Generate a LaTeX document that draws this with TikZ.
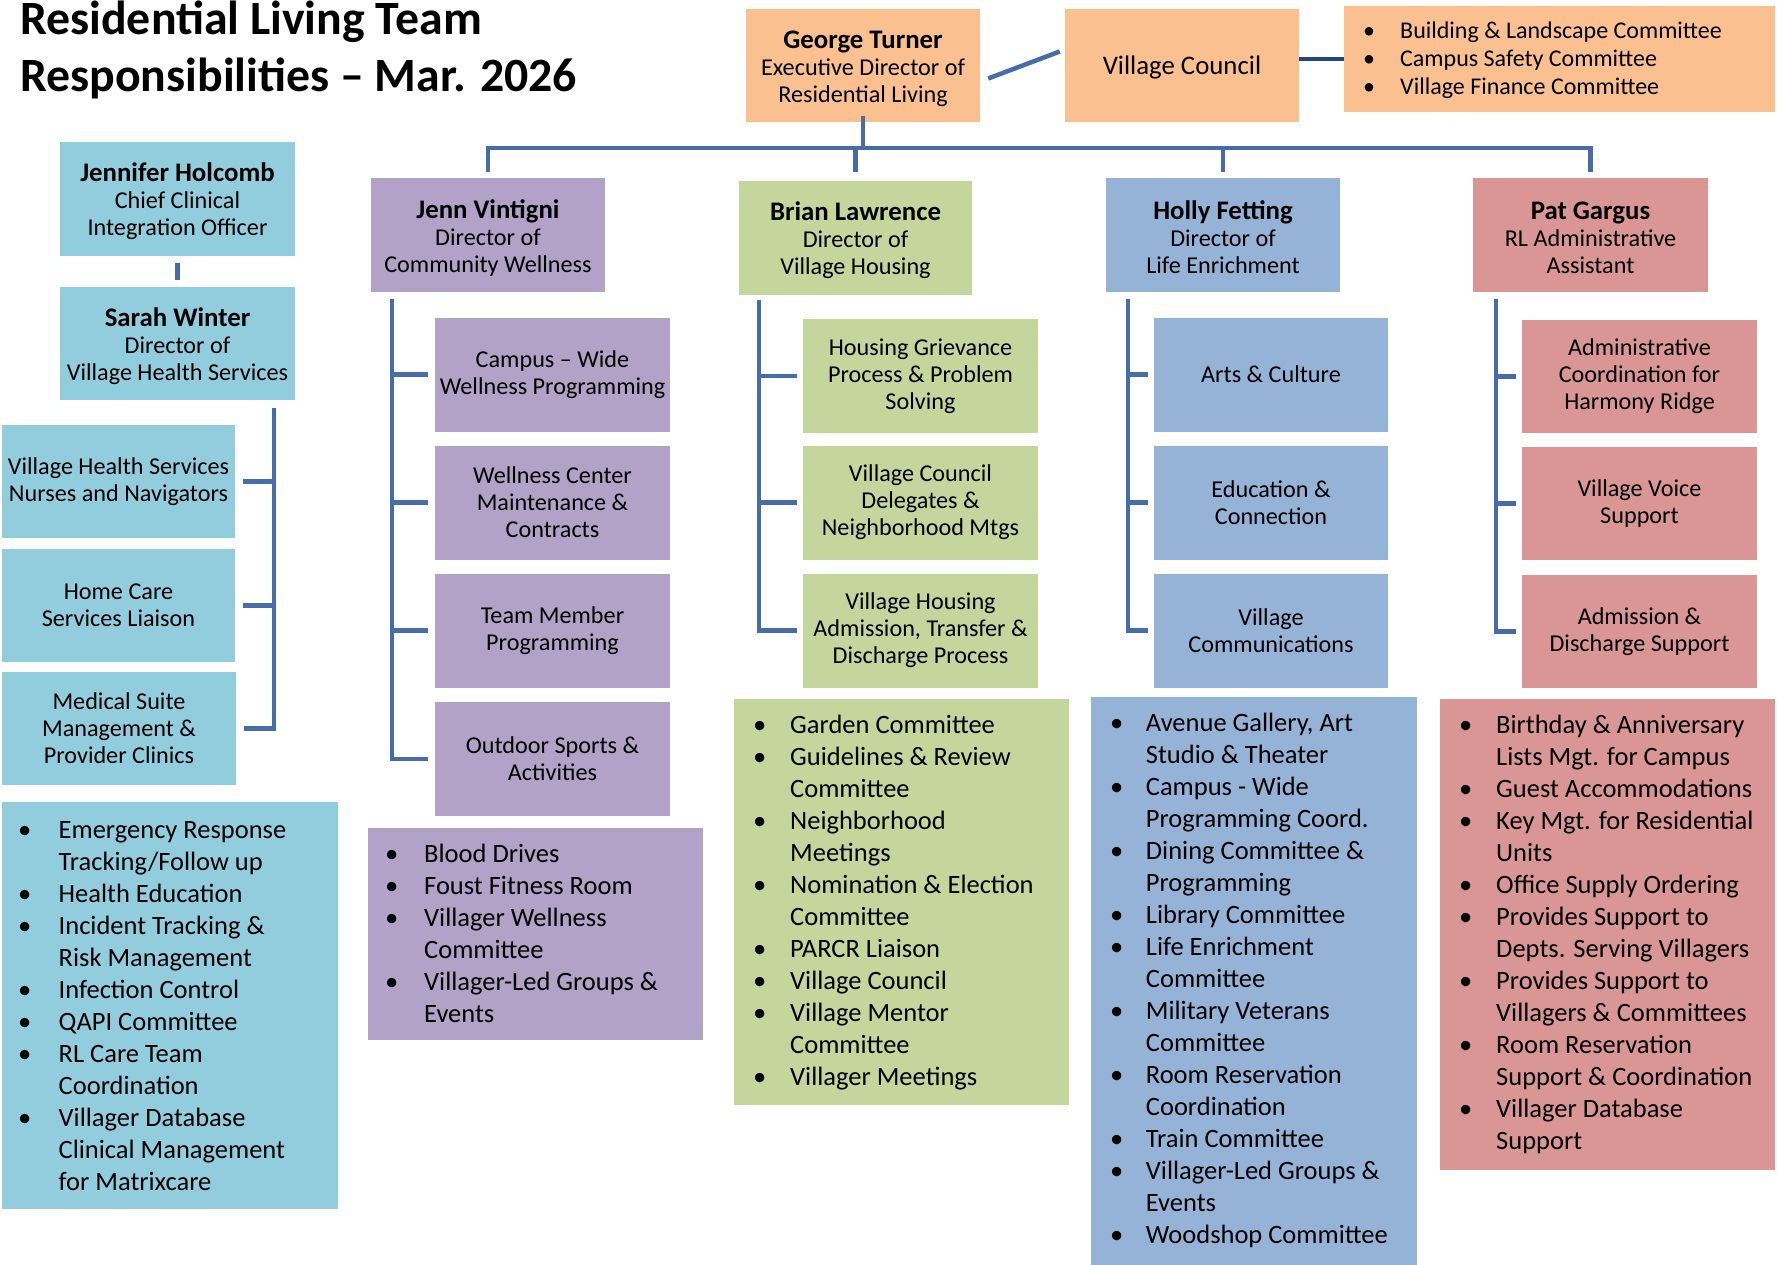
\documentclass[tikz,border=0pt]{standalone}
\usepackage{fontspec}
\setmainfont{Carlito}
\usetikzlibrary{calc}
\definecolor{corng}{RGB}{250,192,144}
\definecolor{cteal}{RGB}{146,205,221}
\definecolor{cpurp}{RGB}{179,162,199}
\definecolor{cgreen}{RGB}{196,214,155}
\definecolor{cblue}{RGB}{149,179,215}
\definecolor{cred}{RGB}{217,150,148}
\definecolor{cline}{RGB}{70,108,170}
\definecolor{cdark}{RGB}{31,73,125}
\newlength\bw
\setlength\bw{38pt}
\newcommand\bul{\makebox[\bw][l]{•}}
\newcommand\ind{\hspace*{\bw}}
\newcommand\nm[1]{{\rule{0pt}{24pt}\fontsize{26.8}{27}\selectfont\bfseries #1}}
\begin{document}
\begin{tikzpicture}[x=1pt,y=-1pt,
  box/.style={inner sep=0pt, align=center, font=\fontsize{24.2}{27}\selectfont, text=black, minimum width=235pt, minimum height=114pt},
  lst/.style={inner sep=0pt, anchor=base west, font=\fontsize{26.5}{32}\selectfont, text=black},
  bg/.style={inner sep=0pt},
  conn/.style={draw=cline, line width=4.5pt}]
\useasboundingbox (0,0) rectangle (1777,1265);

% title
\node[inner sep=0pt, anchor=base west, font=\bfseries\fontsize{47.8}{57}\selectfont] (title) at (20,35)
  {\parbox[t]{700pt}{\raggedright Residential Living Team\\Responsibilities – Mar. 2026}};

% top row
\node[box, fill=corng, minimum width=234pt, minimum height=113pt] (george) at (863,65.5)
  {\nm{George Turner}\\Executive Director of\\Residential Living};
\node[box, fill=corng, minimum width=234pt, minimum height=113pt, font=\fontsize{26.8}{30}\selectfont] (council) at (1182,65.5) {\raisebox{-2.5pt}[19pt][5pt]{Village Council}};
\node[bg, fill=corng, minimum width=431pt, minimum height=106pt] (comm) at (1559.5,59) {};
\node[lst, font=\fontsize{24}{28}\selectfont] (commtxt) at (1363,38.5)
  {\parbox[t]{400pt}{\raggedright\setlength\bw{37pt}\bul Building \& Landscape Committee\\\bul Campus Safety Committee\\\bul Village Finance Committee}};

\draw[conn] ([xshift=8pt,yshift=-13pt]george.east) -- ([xshift=-5pt,yshift=14pt]council.west);
\draw[draw=cdark, line width=4.5pt] (council.east |- comm.west) -- (comm.west);

% left column
\node[box, fill=cteal] (jen) at (177.5,199) {\nm{Jennifer Holcomb}\\Chief Clinical\\Integration Officer};
\node[box, fill=cteal, minimum height=113pt] (sarah) at (177.5,343.5) {\nm{Sarah Winter}\\Director of\\Village Health Services};
\draw[conn] ([yshift=-7pt]jen.south) -- ([yshift=7pt]sarah.north);
\node[box, fill=cteal, minimum width=233pt, minimum height=113pt] (vhs) at (118.5,481.5) {Village Health Services\\Nurses and Navigators};
\node[box, fill=cteal, minimum width=233pt, minimum height=113pt] (home) at (118.5,605.5) {Home Care\\Services Liaison};
\node[box, fill=cteal, minimum width=234pt, minimum height=113pt] (med) at (119,728.5) {Medical Suite\\Management \&\\Provider Clinics};
\coordinate (sw) at ([xshift=-21pt,yshift=-8pt]sarah.south east);
\draw[conn] (sw) |- ([xshift=8pt]med.east);
\draw[conn] ([xshift=8pt]vhs.east) -- (vhs.east -| sw);
\draw[conn] ([xshift=8pt]home.east) -- (home.east -| sw);
\node[bg, fill=cteal, minimum width=336pt, minimum height=407pt] (lbox) at (170,1005.5) {};
\node[lst] (ltxt) at (18,838) {\parbox[t]{310pt}{\raggedright\setlength\bw{40.5pt}%
\bul Emergency Response\\\ind Tracking/Follow up\\\bul Health Education\\\bul Incident Tracking \&\\\ind Risk Management\\\bul Infection Control\\\bul QAPI Committee\\\bul RL Care Team\\\ind Coordination\\\bul Villager Database\\\ind Clinical Management\\\ind for Matrixcare}};

% bus
\coordinate (bus) at (864,148);
\node[box, fill=cpurp, minimum width=234pt] (jenn) at (488,235) {\nm{Jenn Vintigni}\\Director of\\Community Wellness};
\node[box, fill=cgreen, minimum width=233pt] (brian) at (855.5,238) {\nm{Brian Lawrence}\\Director of\\Village Housing};
\node[box, fill=cblue, minimum width=234pt] (holly) at (1223,235) {\nm{Holly Fetting}\\Director of\\Life Enrichment};
\node[box, fill=cred] (pat) at (1590.5,235) {\nm{Pat Gargus}\\RL Administrative\\Assistant};
\draw[conn] ([yshift=6pt]george.south) -- (george.south |- bus);
\draw[conn] ([yshift=6pt]jenn.north) -- (jenn.north |- bus) -- (pat.north |- bus) -- ([yshift=6pt]pat.north);
\draw[conn] ([yshift=9pt]brian.north) -- (brian.north |- bus);
\draw[conn] ([yshift=6pt]holly.north) -- (holly.north |- bus);

% purple column
\node[box, fill=cpurp] (p1) at (552.5,374.5) {Campus – Wide\\Wellness Programming};
\node[box, fill=cpurp] (p2) at (552.5,502.5) {Wellness Center\\Maintenance \&\\Contracts};
\node[box, fill=cpurp] (p3) at (552.5,630.5) {Team Member\\Programming};
\node[box, fill=cpurp] (p4) at (552.5,759) {Outdoor Sports \&\\Activities};
\coordinate (pv) at ([xshift=21pt,yshift=-7pt]jenn.south west);
\draw[conn] (pv) |- ([xshift=-7pt]p4.west);
\foreach \n in {p1,p2,p3} \draw[conn] ([xshift=-7pt]\n.west) -- (\n.west -| pv);
\node[bg, fill=cpurp, minimum width=335pt, minimum height=212pt] (pbox) at (535.5,934) {};
\node[lst] (ptxt) at (385,862.5) {\parbox[t]{310pt}{\raggedright\setlength\bw{39pt}%
\bul Blood Drives\\\bul Foust Fitness Room\\\bul Villager Wellness\\\ind Committee\\\bul Villager-Led Groups \&\\\ind Events}};

% green column
\node[box, fill=cgreen] (g1) at (920.5,376) {Housing Grievance\\Process \& Problem\\Solving};
\node[box, fill=cgreen] (g2) at (920.5,502.5) {Village Council\\Delegates \&\\Neighborhood Mtgs};
\node[box, fill=cgreen] (g3) at (920.5,630.5) {Village Housing\\Admission, Transfer \&\\Discharge Process};
\coordinate (gv) at ([xshift=20pt,yshift=-5pt]brian.south west);
\draw[conn] (gv) |- ([xshift=-6pt]g3.west);
\foreach \n in {g1,g2} \draw[conn] ([xshift=-6pt]\n.west) -- (\n.west -| gv);
\node[bg, fill=cgreen, minimum width=335pt, minimum height=406pt] (gbox) at (901.5,902) {};
\node[lst] (gtxt) at (753,733) {\parbox[t]{320pt}{\raggedright\setlength\bw{37pt}%
\bul Garden Committee\\\bul Guidelines \& Review\\\ind Committee\\\bul Neighborhood\\\ind Meetings\\\bul Nomination \& Election\\\ind Committee\\\bul PARCR Liaison\\\bul Village Council\\\bul Village Mentor\\\ind Committee\\\bul Villager Meetings}};

% blue column
\node[box, fill=cblue, minimum width=234pt] (b1) at (1271,374.5) {Arts \& Culture};
\node[box, fill=cblue, minimum width=234pt] (b2) at (1271,502.5) {Education \&\\Connection};
\node[box, fill=cblue, minimum width=234pt] (b3) at (1271,630.5) {Village\\Communications};
\coordinate (bv) at ([xshift=22pt,yshift=-7pt]holly.south west);
\draw[conn] (bv) |- ([xshift=-6pt]b3.west);
\foreach \n in {b1,b2} \draw[conn] ([xshift=-6pt]\n.west) -- (\n.west -| bv);
\node[bg, fill=cblue, minimum width=326pt, minimum height=568pt] (bbox) at (1254,981) {};
\node[lst] (btxt) at (1110,731) {\parbox[t]{310pt}{\raggedright\setlength\bw{35.7pt}%
\bul Avenue Gallery, Art\\\ind Studio \& Theater\\\bul Campus - Wide\\\ind Programming Coord.\\\bul Dining Committee \&\\\ind Programming\\\bul Library Committee\\\bul Life Enrichment\\\ind Committee\\\bul Military Veterans\\\ind Committee\\\bul Room Reservation\\\ind Coordination\\\bul Train Committee\\\bul Villager-Led Groups \&\\\ind Events\\\bul Woodshop Committee}};

% red column
\node[box, fill=cred, minimum height=113pt] (r1) at (1639.5,376.5) {Administrative\\Coordination for\\Harmony Ridge};
\node[box, fill=cred, minimum height=113pt] (r2) at (1639.5,503.5) {Village Voice\\Support};
\node[box, fill=cred, minimum height=113pt] (r3) at (1639.5,631.5) {Admission \&\\Discharge Support};
\coordinate (rv) at ([xshift=23pt,yshift=-7pt]pat.south west);
\draw[conn] (rv) |- ([xshift=-6pt]r3.west);
\foreach \n in {r1,r2} \draw[conn] ([xshift=-6pt]\n.west) -- (\n.west -| rv);
\node[bg, fill=cred, minimum width=335pt, minimum height=471pt] (rbox) at (1607.5,934.5) {};
\node[lst] (rtxt) at (1459,733) {\parbox[t]{315pt}{\raggedright\setlength\bw{37pt}%
\bul Birthday \& Anniversary\\\ind Lists Mgt. for Campus\\\bul Guest Accommodations\\\bul Key Mgt. for Residential\\\ind Units\\\bul Office Supply Ordering\\\bul Provides Support to\\\ind Depts. Serving Villagers\\\bul Provides Support to\\\ind Villagers \& Committees\\\bul Room Reservation\\\ind Support \& Coordination\\\bul Villager Database\\\ind Support}};
\end{tikzpicture}
\end{document}
